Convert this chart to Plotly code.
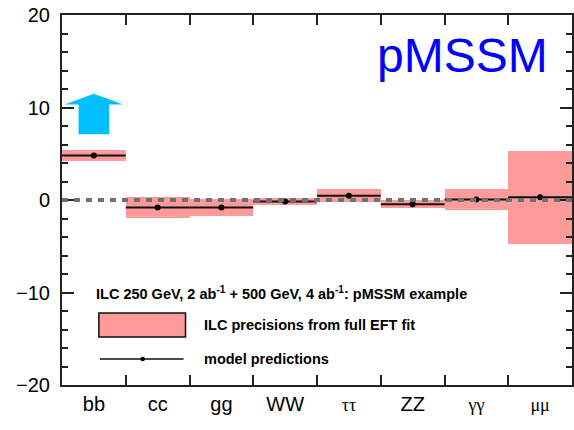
import plotly.graph_objects as go

# Higgs couplings: deviations from the SM in percent
channels = ["bb", "cc", "gg", "WW", "ττ", "ZZ", "γγ", "μμ"]
model_pred = [4.8, -0.8, -0.8, -0.15, 0.45, -0.45, 0.05, 0.3]
ilc_precision = [0.6, 1.1, 0.95, 0.35, 0.7, 0.45, 1.1, 5.05]

# bb shift indicator (from / to, percent)
arrow_channel = "bb"
arrow_from = 7.1
arrow_to = 11.5

PINK = "#ff9a9a"
ARROW = "#00bfff"
AXIS = "#222222"
FONT = "Liberation Sans"
LEG_SIZE = 14.5

n = len(channels)
xs = list(range(n))


def tick_label(name):
    # Greek channel names are set in a serif face, slightly smaller
    if name.isascii():
        return name
    return f'<span style="font-family:Liberation Serif;font-size:18px">{name}</span>'


fig = go.Figure()

# precision bands centred on the prediction
fig.add_trace(go.Bar(
    x=xs,
    base=[m - e for m, e in zip(model_pred, ilc_precision)],
    y=[2 * e for e in ilc_precision],
    width=1.0,
    marker=dict(color=PINK, line=dict(width=0)),
    hoverinfo="skip",
    showlegend=False,
))

# model prediction: horizontal segment over each channel + central point
seg_x, seg_y = [], []
for i, m in enumerate(model_pred):
    seg_x += [i - 0.5, i + 0.5, None]
    seg_y += [m, m, None]
fig.add_trace(go.Scatter(x=seg_x, y=seg_y, mode="lines",
                         line=dict(color="#111111", width=2),
                         hoverinfo="skip", showlegend=False))
fig.add_trace(go.Scatter(x=xs, y=model_pred, mode="markers",
                         marker=dict(color="#000000", size=6),
                         hoverinfo="skip", showlegend=False))

# block arrow for bb
ai = channels.index(arrow_channel)
head_w, shaft_w = 0.46, 0.24
head_base = arrow_to - 0.27 * (arrow_to - arrow_from)
ax = [ai - shaft_w, ai - shaft_w, ai - head_w, ai, ai + head_w, ai + shaft_w, ai + shaft_w, ai - shaft_w]
ay = [arrow_from, head_base, head_base, arrow_to, head_base, head_base, arrow_from, arrow_from]
fig.add_trace(go.Scatter(x=ax, y=ay, mode="lines", fill="toself",
                         fillcolor=ARROW, line=dict(color=ARROW, width=0),
                         hoverinfo="skip", showlegend=False))

# SM reference line
fig.add_shape(type="line", xref="paper", yref="y", x0=0, x1=1, y0=0, y1=0,
              line=dict(color="#707070", width=4, dash="6px,6px"), layer="above")

# legend block
fig.add_annotation(xref="paper", yref="paper", x=0.0625, y=0.2486,
                   xanchor="left", yanchor="middle", showarrow=False,
                   text="<b>ILC 250 GeV, 2 ab<sup>-1</sup> + 500 GeV, 4 ab<sup>-1</sup>: pMSSM example</b>",
                   font=dict(family=FONT, size=LEG_SIZE, color="#000"))
fig.add_shape(type="rect", xref="paper", yref="paper",
              x0=0.0723, x1=0.2422, y0=0.130, y1=0.1946,
              fillcolor=PINK, line=dict(color="#111", width=1.5))
fig.add_annotation(xref="paper", yref="paper", x=0.2754, y=0.1622,
                   xanchor="left", yanchor="middle", showarrow=False,
                   text="<b>ILC precisions from full EFT fit</b>",
                   font=dict(family=FONT, size=LEG_SIZE, color="#000"))
fig.add_shape(type="line", xref="paper", yref="paper",
              x0=0.0742, x1=0.2383, y0=0.0703, y1=0.0703,
              line=dict(color="#111", width=1.5))
fig.add_shape(type="circle", xref="paper", yref="paper",
              x0=0.1582 - 0.0045, x1=0.1582 + 0.0045,
              y0=0.0703 - 0.0062, y1=0.0703 + 0.0062,
              fillcolor="#000", line=dict(color="#000", width=0))
fig.add_annotation(xref="paper", yref="paper", x=0.2754, y=0.0703,
                   xanchor="left", yanchor="middle", showarrow=False,
                   text="<b>model predictions</b>",
                   font=dict(family=FONT, size=LEG_SIZE, color="#000"))

# model label
fig.add_annotation(xref="paper", yref="paper", x=0.785, y=0.89,
                   xanchor="center", yanchor="middle", showarrow=False,
                   text="pMSSM", font=dict(family=FONT, size=48, color="#0000ff"))

fig.update_layout(
    width=574, height=430,
    margin=dict(l=62, r=0, t=15, b=45),
    paper_bgcolor="white", plot_bgcolor="white",
    bargap=0, showlegend=False,
    font=dict(family=FONT, color="#000"),
)
fig.update_xaxes(
    range=[-0.5, n - 0.5], tickvals=xs, ticktext=[tick_label(c) for c in channels],
    ticks="", showgrid=False, zeroline=False,
    showline=True, linecolor=AXIS, linewidth=2, mirror="allticks",
    tickfont=dict(family=FONT, size=20, color="#000"),
    minor=dict(tickvals=[i + 0.5 for i in range(n - 1)], ticks="inside",
               ticklen=10, tickwidth=2, tickcolor=AXIS, showgrid=False),
)
fig.update_yaxes(
    range=[-20, 20], tickvals=[-20, -10, 0, 10, 20],
    ticks="inside", ticklen=12, tickwidth=2, tickcolor=AXIS,
    showgrid=False, zeroline=False,
    showline=True, linecolor=AXIS, linewidth=2, mirror="allticks",
    tickfont=dict(family=FONT, size=20, color="#000"),
    ticklabelstandoff=6,
    minor=dict(dtick=2, ticks="inside", ticklen=6, tickwidth=2,
               tickcolor=AXIS, showgrid=False),
)

fig.write_html("out.html")
